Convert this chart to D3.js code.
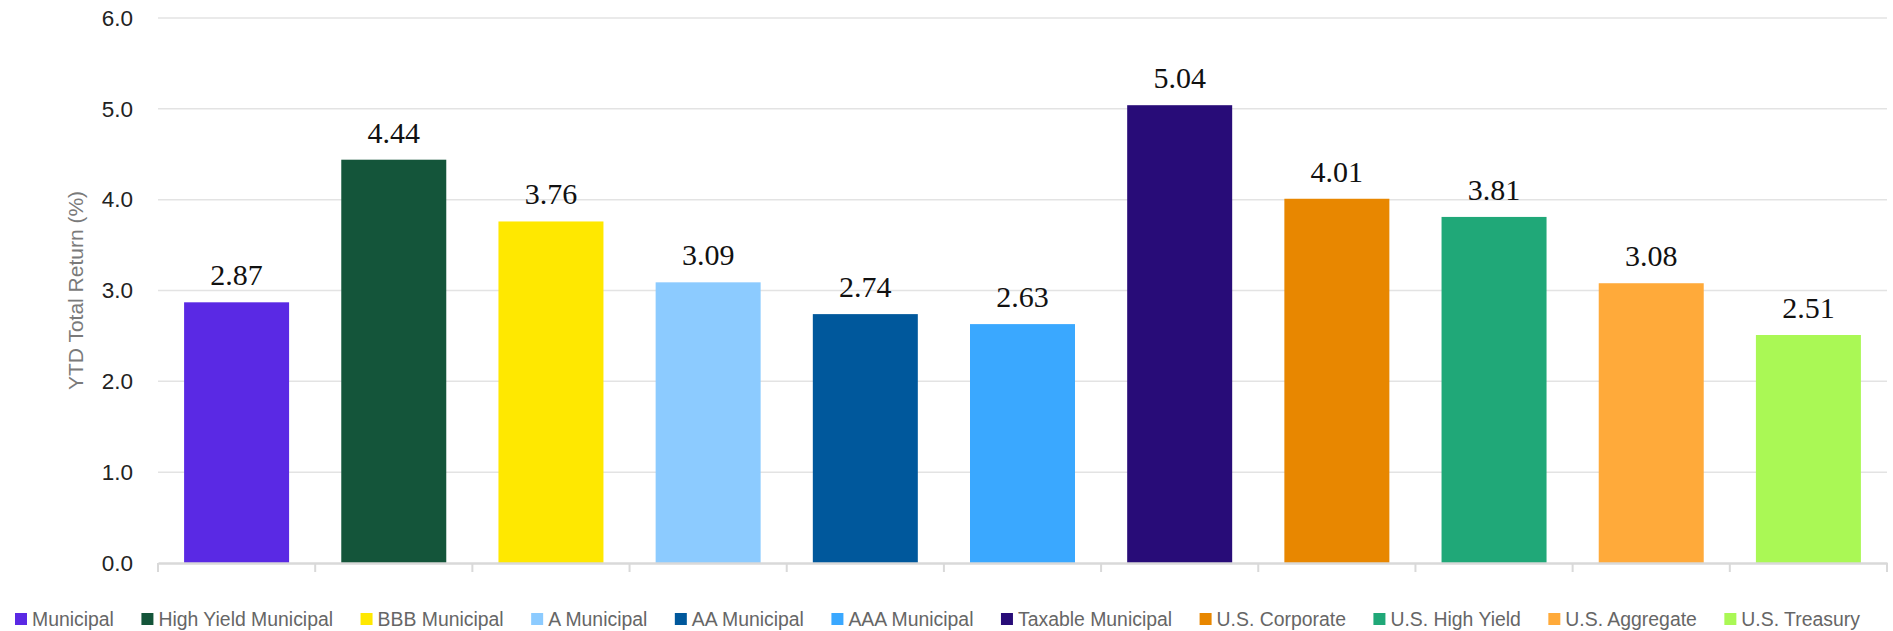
<!DOCTYPE html>
<html>
<head>
<meta charset="utf-8">
<script src="https://cdn.jsdelivr.net/npm/d3@7"></script>
<style>
  html, body { margin: 0; padding: 0; background: #ffffff; }
  svg { display: block; }
</style>
</head>
<body>
<svg id="chart" width="1893" height="631"></svg>
<script>
// Year-to-date total returns by fixed income sector
const categories = [
  "Municipal", "High Yield Municipal", "BBB Municipal", "A Municipal",
  "AA Municipal", "AAA Municipal", "Taxable Municipal", "U.S. Corporate",
  "U.S. High Yield", "U.S. Aggregate", "U.S. Treasury"
];
const returns = [2.87, 4.44, 3.76, 3.09, 2.74, 2.63, 5.04, 4.01, 3.81, 3.08, 2.51];
const barColors = [
  "#5a29e4", "#14553a", "#ffe800", "#8ccbff", "#00589c", "#3aa8ff",
  "#280c78", "#e88700", "#20a878", "#ffaa3a", "#aaf855"
];
const yTicks = [0, 1, 2, 3, 4, 5, 6];
const yTitle = "YTD Total Return (%)";

const svg = d3.select("#chart");
const plot = { left: 158, right: 1887, top: 18, bottom: 563 };

const x = d3.scaleBand()
  .domain(categories)
  .range([plot.left, plot.right])
  .paddingInner(0.332)
  .paddingOuter(0.166);

const y = d3.scaleLinear()
  .domain([0, 6])
  .range([plot.bottom, plot.top]);

// horizontal gridlines
svg.append("g")
  .selectAll("line")
  .data(yTicks.filter(d => d > 0))
  .join("line")
  .attr("x1", plot.left)
  .attr("x2", plot.right)
  .attr("y1", d => y(d))
  .attr("y2", d => y(d))
  .attr("stroke", "#e3e3e3")
  .attr("stroke-width", 1.5);

// y axis tick labels
const yAxis = d3.axisLeft(y)
  .tickValues(yTicks)
  .tickFormat(d3.format(".1f"))
  .tickSize(0)
  .tickPadding(0);

const yg = svg.append("g")
  .attr("transform", `translate(${plot.left - 25},0)`)
  .call(yAxis);
yg.select(".domain").remove();
yg.selectAll("text")
  .attr("font-family", "'Liberation Sans', Arial, sans-serif")
  .attr("font-size", 22.5)
  .attr("fill", "#222222");

// y axis title
svg.append("text")
  .attr("transform", `translate(${83},${(plot.top + plot.bottom) / 2}) rotate(-90)`)
  .attr("text-anchor", "middle")
  .attr("font-family", "'Liberation Sans', Arial, sans-serif")
  .attr("font-size", 21)
  .attr("fill", "#7a7a7a")
  .text(yTitle);

// bars
svg.append("g")
  .selectAll("rect")
  .data(returns)
  .join("rect")
  .attr("x", (d, i) => x(categories[i]))
  .attr("width", x.bandwidth())
  .attr("y", d => y(d))
  .attr("height", d => y(0) - y(d))
  .attr("fill", (d, i) => barColors[i]);

// value labels
svg.append("g")
  .selectAll("text")
  .data(returns)
  .join("text")
  .attr("x", (d, i) => x(categories[i]) + x.bandwidth() / 2)
  .attr("y", d => y(d) - 17)
  .attr("text-anchor", "middle")
  .attr("font-family", "'Liberation Serif', 'Times New Roman', serif")
  .attr("font-size", 30)
  .attr("fill", "#111111")
  .text(d => d.toFixed(2));

// x axis baseline with category separators
const xAxis = d3.axisBottom(x).tickSize(0).tickFormat("");
const xg = svg.append("g")
  .attr("transform", `translate(0,${plot.bottom})`)
  .call(xAxis);
xg.select(".domain").attr("stroke", "#d9d9d9").attr("stroke-width", 2.5);
xg.selectAll(".tick").remove();

const step = x.step();
const bounds = d3.range(categories.length + 1).map(i => plot.left + i * step);
xg.append("g")
  .selectAll("line")
  .data(bounds)
  .join("line")
  .attr("x1", d => d)
  .attr("x2", d => d)
  .attr("y1", 0)
  .attr("y2", 9)
  .attr("stroke", "#d9d9d9")
  .attr("stroke-width", 2);

// legend
const legend = svg.append("g").attr("transform", "translate(15,619)");
let cursor = 0;
categories.forEach((name, i) => {
  const item = legend.append("g").attr("transform", `translate(${cursor},0)`);
  item.append("rect")
    .attr("x", 0)
    .attr("y", -6)
    .attr("width", 12)
    .attr("height", 12)
    .attr("fill", barColors[i]);
  const t = item.append("text")
    .attr("x", 17)
    .attr("y", 0)
    .attr("dy", "0.35em")
    .attr("font-family", "'Liberation Sans', Arial, sans-serif")
    .attr("font-size", 19.4)
    .attr("fill", "#666666")
    .text(name);
  cursor += 17 + t.node().getComputedTextLength() + 27.5;
});
</script>
</body>
</html>
